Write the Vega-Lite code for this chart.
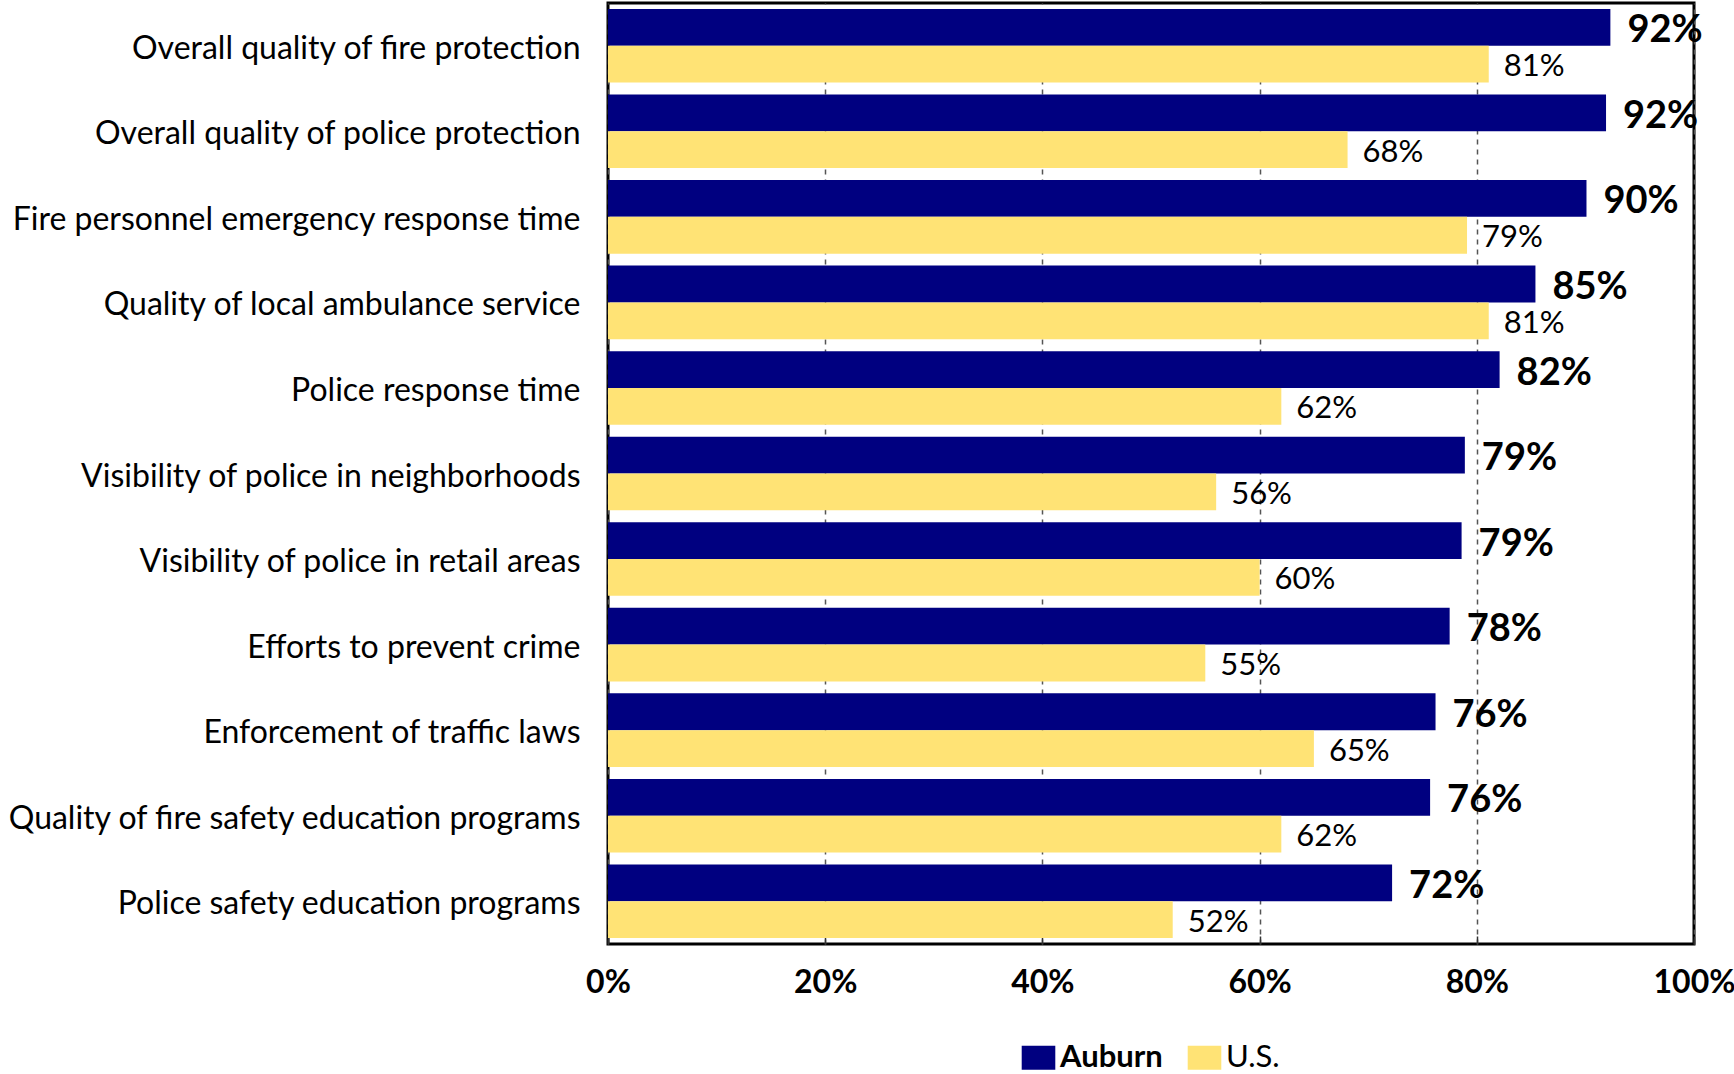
{
  "$schema": "https://vega.github.io/schema/vega-lite/v6.json",
  "autosize": {"type": "none"},
  "width": 1086,
  "height": 941,
  "padding": {"left": 608, "top": 3, "right": 40, "bottom": 130},
  "config": {"font": "Lato", "view": {"stroke": "black", "strokeWidth": 3}},
  "data": {"values": [
    {"item": "Overall quality of fire protection", "series": "Auburn", "value": 92.3, "label": "92%"},
    {"item": "Overall quality of fire protection", "series": "U.S.", "value": 81.1, "label": "81%"},
    {"item": "Overall quality of police protection", "series": "Auburn", "value": 91.9, "label": "92%"},
    {"item": "Overall quality of police protection", "series": "U.S.", "value": 68.1, "label": "68%"},
    {"item": "Fire personnel emergency response time", "series": "Auburn", "value": 90.1, "label": "90%"},
    {"item": "Fire personnel emergency response time", "series": "U.S.", "value": 79.1, "label": "79%"},
    {"item": "Quality of local ambulance service", "series": "Auburn", "value": 85.4, "label": "85%"},
    {"item": "Quality of local ambulance service", "series": "U.S.", "value": 81.1, "label": "81%"},
    {"item": "Police response time", "series": "Auburn", "value": 82.1, "label": "82%"},
    {"item": "Police response time", "series": "U.S.", "value": 62.0, "label": "62%"},
    {"item": "Visibility of police in neighborhoods", "series": "Auburn", "value": 78.9, "label": "79%"},
    {"item": "Visibility of police in neighborhoods", "series": "U.S.", "value": 56.0, "label": "56%"},
    {"item": "Visibility of police in retail areas", "series": "Auburn", "value": 78.6, "label": "79%"},
    {"item": "Visibility of police in retail areas", "series": "U.S.", "value": 60.0, "label": "60%"},
    {"item": "Efforts to prevent crime", "series": "Auburn", "value": 77.5, "label": "78%"},
    {"item": "Efforts to prevent crime", "series": "U.S.", "value": 55.0, "label": "55%"},
    {"item": "Enforcement of traffic laws", "series": "Auburn", "value": 76.2, "label": "76%"},
    {"item": "Enforcement of traffic laws", "series": "U.S.", "value": 65.0, "label": "65%"},
    {"item": "Quality of fire safety education programs", "series": "Auburn", "value": 75.7, "label": "76%"},
    {"item": "Quality of fire safety education programs", "series": "U.S.", "value": 62.0, "label": "62%"},
    {"item": "Police safety education programs", "series": "Auburn", "value": 72.2, "label": "72%"},
    {"item": "Police safety education programs", "series": "U.S.", "value": 52.0, "label": "52%"}
  ]},
  "encoding": {
    "y": {
      "field": "item", "type": "nominal", "sort": null,
      "scale": {"paddingInner": 0.14, "paddingOuter": 0.07},
      "axis": {"title": null, "ticks": false, "domain": false, "labelFontSize": 32, "labelColor": "black", "labelPadding": 28, "labelOffset": 3, "labelLimit": 0}
    },
    "yOffset": {"field": "series", "type": "nominal", "sort": ["Auburn", "U.S."], "scale": {"paddingInner": 0, "paddingOuter": 0}},
    "x": {
      "field": "value", "type": "quantitative",
      "scale": {"domain": [0, 100], "nice": false},
      "axis": {"title": null, "values": [0, 20, 40, 60, 80, 100], "labelExpr": "datum.value + '%'", "grid": true, "gridDash": [5, 5], "gridColor": "#555", "gridWidth": 1.5, "tickSize": -8, "tickColor": "#333", "tickWidth": 1.5, "domain": false, "labelFontSize": 32, "labelFontWeight": "bold", "labelColor": "black", "labelPadding": 31, "labelFlush": false}
    }
  },
  "layer": [
    {
      "mark": {"type": "bar"},
      "encoding": {
        "color": {
          "field": "series", "type": "nominal",
          "scale": {"domain": ["Auburn", "U.S."], "range": ["#000080", "#FFE375"]},
          "legend": {
            "title": null, "orient": "none", "legendX": 415, "legendY": 1039, "direction": "horizontal", "padding": 0,
            "labelFontSize": 31, "labelColor": "black", "labelOffset": 6, "columnPadding": 24,
            "symbolType": "M-1.4,-1L1.4,-1L1.4,1L-1.4,1Z", "symbolSize": 576, "symbolStrokeWidth": 0, "symbolOpacity": 1,
            "encode": {"labels": {"update": {"fontWeight": [{"test": "datum.label === 'Auburn'", "value": "bold"}, {"value": "normal"}]}}}
          }
        }
      }
    },
    {
      "transform": [{"filter": "datum.series === 'Auburn'"}],
      "mark": {"type": "text", "align": "left", "baseline": "middle", "dx": 17, "dy": 4, "fontSize": 38, "fontWeight": "bold", "color": "black"},
      "encoding": {"text": {"field": "label"}}
    },
    {
      "transform": [{"filter": "datum.series === 'U.S.'"}],
      "mark": {"type": "text", "align": "left", "baseline": "middle", "dx": 15, "dy": 3, "fontSize": 31, "color": "black"},
      "encoding": {"text": {"field": "label"}}
    }
  ]
}
